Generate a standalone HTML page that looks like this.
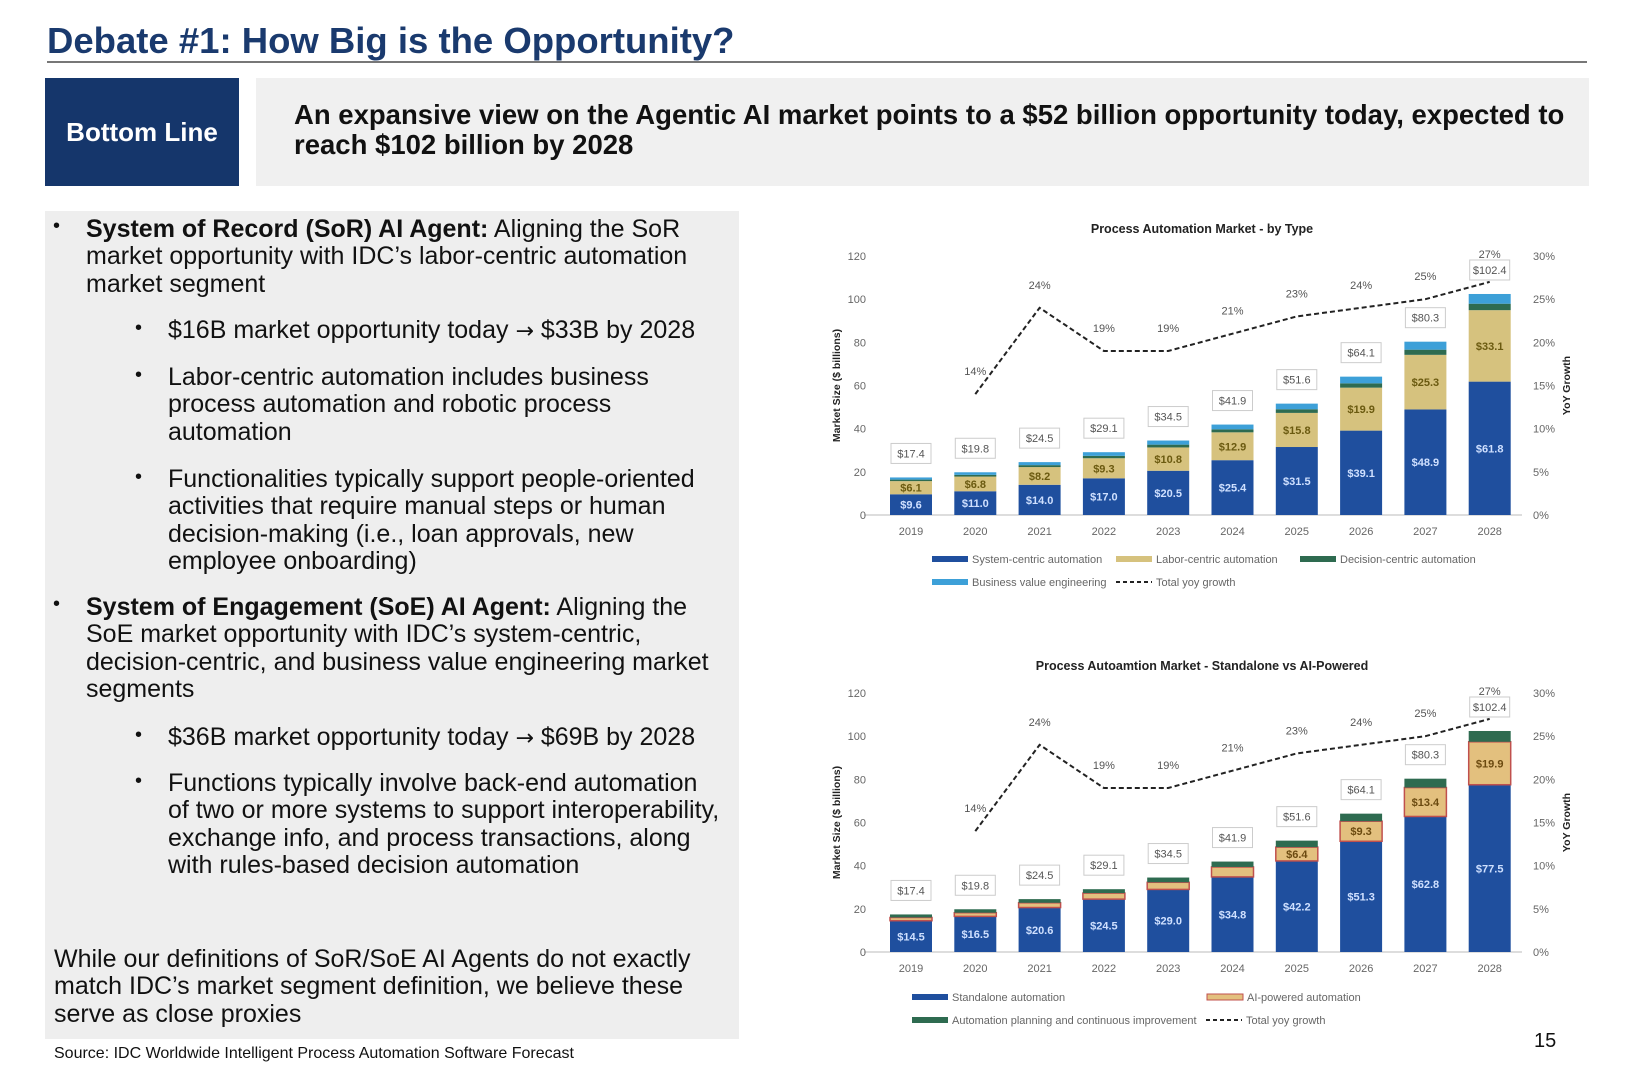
<!DOCTYPE html>
<html><head><meta charset="utf-8">
<style>
body{margin:0;width:1632px;height:1080px;background:#fff;font-family:"Liberation Sans",Arial,sans-serif;position:relative;overflow:hidden}
.abs{position:absolute}
#title{left:47px;top:20px;font-size:36.5px;font-weight:bold;color:#1a3a6e}
#rule{left:47px;top:61px;width:1540px;height:2px;background:#777}
#bl{left:45px;top:78px;width:194px;height:108px;background:#15366b;color:#fff;font-weight:bold;font-size:26px;display:flex;align-items:center;justify-content:center}
#hl{left:256px;top:78px;width:1333px;height:108px;background:#f0f0f0}
#hl div{position:absolute;left:38px;top:22px;font-size:27.5px;font-weight:bold;line-height:30px;color:#111;width:1290px}
#panel{left:45px;top:211px;width:694px;height:828px;background:#eeeeee}
.t{position:absolute;font-size:25px;line-height:27.3px;color:#111;white-space:nowrap}
.b{position:absolute;font-size:20px;color:#111}
.ar{font-family:"DejaVu Sans",sans-serif;font-size:22px}
#src{left:54px;top:1045px;font-size:16px;color:#111}
#pg{left:1534px;top:1030px;font-size:20px;color:#111}
svg text{font-family:"Liberation Sans",Arial,sans-serif}
</style></head><body>
<div id="title" class="abs">Debate #1: How Big is the Opportunity?</div>
<div id="rule" class="abs"></div>
<div id="bl" class="abs">Bottom Line</div>
<div id="hl" class="abs"><div>An expansive view on the Agentic AI market points to a $52 billion opportunity today, expected to reach $102 billion by 2028</div></div>
<div id="panel" class="abs">
<span class="b" style="left:8px;top:4px">•</span>
<div class="t" style="left:41px;top:5px"><b>System of Record (SoR) AI Agent:</b> Aligning the SoR<br>market opportunity with IDC’s labor-centric automation<br>market segment</div>
<span class="b" style="left:90px;top:106px">•</span>
<div class="t" style="left:123px;top:106px">$16B market opportunity today <span class="ar">→</span> $33B by 2028</div>
<span class="b" style="left:90px;top:153px">•</span>
<div class="t" style="left:123px;top:153px">Labor-centric automation includes business<br>process automation and robotic process<br>automation</div>
<span class="b" style="left:90px;top:255px">•</span>
<div class="t" style="left:123px;top:255px">Functionalities typically support people-oriented<br>activities that require manual steps or human<br>decision-making (i.e., loan approvals, new<br>employee onboarding)</div>
<span class="b" style="left:8px;top:382px">•</span>
<div class="t" style="left:41px;top:383px"><b>System of Engagement (SoE) AI Agent:</b> Aligning the<br>SoE market opportunity with IDC’s system-centric,<br>decision-centric, and business value engineering market<br>segments</div>
<span class="b" style="left:90px;top:513px">•</span>
<div class="t" style="left:123px;top:513px">$36B market opportunity today <span class="ar">→</span> $69B by 2028</div>
<span class="b" style="left:90px;top:559px">•</span>
<div class="t" style="left:123px;top:559px">Functions typically involve back-end automation<br>of two or more systems to support interoperability,<br>exchange info, and process transactions, along<br>with rules-based decision automation</div>
<div class="t" style="left:9px;top:735px">While our definitions of SoR/SoE AI Agents do not exactly<br>match IDC’s market segment definition, we believe these<br>serve as close proxies</div>
</div>
<div id="src" class="abs">Source: IDC Worldwide Intelligent Process Automation Software Forecast</div>
<div id="pg" class="abs">15</div>
<svg id="chart" class="abs" style="left:0;top:0" width="1632" height="1080"></svg>
<script>
const years=["2019","2020","2021","2022","2023","2024","2025","2026","2027","2028"];
const totals=[17.4,19.8,24.5,29.1,34.5,41.9,51.6,64.1,80.3,102.4];
const growth=[null,14,24,19,19,21,23,24,25,27];
const systemCentric=[9.6,11.0,14.0,17.0,20.5,25.4,31.5,39.1,48.9,61.8];
const laborCentric=[6.1,6.8,8.2,9.3,10.8,12.9,15.8,19.9,25.3,33.1];
const decisionCentric=[0.7,0.8,0.9,1.1,1.3,1.4,1.7,2.0,2.4,3.0];
const businessValue=[1.0,1.2,1.4,1.7,1.9,2.2,2.6,3.1,3.7,4.5];
const standalone=[14.5,16.5,20.6,24.5,29.0,34.8,42.2,51.3,62.8,77.5];
const aiPowered=[1.5,1.7,2.2,2.8,3.3,4.6,6.4,9.3,13.4,19.9];
const planning=[1.4,1.6,1.7,1.8,2.2,2.5,3.0,3.5,4.1,5.0];
const leftTicks=[0,20,40,60,80,100,120];
const rightTicks=["0%","5%","10%","15%","20%","25%","30%"];

const svg=document.getElementById('chart');
const NS='http://www.w3.org/2000/svg';
function mk(tag,attrs,txt){const e=document.createElementNS(NS,tag);for(const k in attrs)e.setAttribute(k,attrs[k]);if(txt!=null)e.textContent=txt;svg.appendChild(e);return e;}

function drawChart(top0,top120,title,titleY,series,legendRows,key){
  const y=v=>top0-v/120*(top0-top120);
  const yp=p=>top0-p/30*(top0-top120);
  const x=i=>911+i*64.3;
  const bw=42;
  let e=mk('text',{x:1202,y:titleY,'text-anchor':'middle','font-size':12.5,'font-weight':'bold',fill:'#222'},title);
  
  
  mk('line',{x1:864,x2:1522,y1:top0,y2:top0,stroke:'#bbb','stroke-width':1});
  leftTicks.forEach((t,i)=>{
    e=mk('text',{x:866,y:y(t)+4,'text-anchor':'end','font-size':11,fill:'#666'},t);
    
    
  });
  rightTicks.forEach((t,i)=>{
    e=mk('text',{x:1533,y:yp(i*5)+4,'font-size':11,fill:'#666'},t);
    
    
  });
  const cy=(top0+top120)/2;
  e=mk('text',{x:0,y:0,transform:`translate(840,${cy}) rotate(-90)`,'text-anchor':'middle','font-size':10.5,'font-weight':'bold',fill:'#222'},'Market Size ($ billions)');
  
  
  e=mk('text',{x:0,y:0,transform:`translate(1570,${cy}) rotate(-90)`,'text-anchor':'middle','font-size':10.5,'font-weight':'bold',fill:'#222'},'YoY Growth');
  
  
  years.forEach((yr,i)=>{
    e=mk('text',{x:x(i),y:top0+20,'text-anchor':'middle','font-size':11,fill:'#666'},yr);
    
    
    let base=0;
    series.forEach(s=>{
      const v=s.data[i];
      const r=mk('rect',{x:x(i)-bw/2,y:y(base+v),width:bw,height:y(base)-y(base+v),fill:s.color,stroke:s.stroke||'none','stroke-width':s.stroke?1.5:0});
      
      
      if(s.label && (y(base)-y(base+v))>12){
        const tt=mk('text',{x:x(i),y:(y(base)+y(base+v))/2+4,'text-anchor':'middle','font-size':11,'font-weight':'bold',fill:s.labelColor},'$'+v.toFixed(1));
        
        
      }
      base+=v;
    });
    const ty=y(totals[i])-24;
    const bx=mk('rect',{x:x(i)-20,y:ty-10,width:40,height:20,fill:'#fff',stroke:'#ccc','stroke-width':1});
    
    
    e=mk('text',{x:x(i),y:ty+4,'text-anchor':'middle','font-size':11,fill:'#555'},'$'+totals[i].toFixed(1));
    
    
  });
  let pts=[];
  growth.forEach((g,i)=>{if(g!=null)pts.push(x(i)+','+yp(g));});
  e=mk('polyline',{points:pts.join(' '),fill:'none',stroke:'#222','stroke-width':2,'stroke-dasharray':'5,3'});
  
  
  growth.forEach((g,i)=>{if(g==null)return;
    const off=(i===growth.length-1)?24:19;
    e=mk('text',{x:x(i),y:yp(g)-off,'text-anchor':'middle','font-size':11,fill:'#555'},g+'%');
    
    
  });
  legendRows.forEach(l=>{
    if(l.dash){
      mk('line',{x1:l.x,x2:l.x+36,y1:l.y,y2:l.y,stroke:'#222','stroke-width':2,'stroke-dasharray':'4,3'});
    } else {
      mk('rect',{x:l.x,y:l.y-3,width:36,height:6,fill:l.color,stroke:l.stroke||'none'});
    }
    e=mk('text',{x:l.x+40,y:l.y+4,'font-size':11,fill:'#666'},l.text);
    
    
  });
}
drawChart(515,256,'Process Automation Market - by Type',233,[
  {key:'system',data:systemCentric,color:'#1f4f9e',label:true,labelColor:'#cfe0ff'},
  {key:'labor',data:laborCentric,color:'#d6c27e',label:true,labelColor:'#6b5a10'},
  {key:'decision',data:decisionCentric,color:'#2e6b50'},
  {key:'bve',data:businessValue,color:'#3da0d8'}
],[
  {x:932,y:559,color:'#1f4f9e',text:'System-centric automation'},
  {x:1116,y:559,color:'#d6c27e',text:'Labor-centric automation'},
  {x:1300,y:559,color:'#2e6b50',text:'Decision-centric automation'},
  {x:932,y:582,color:'#3da0d8',text:'Business value engineering'},
  {x:1116,y:582,dash:true,text:'Total yoy growth'}
],'chart1');
drawChart(952,693,'Process Autoamtion Market - Standalone vs AI-Powered',670,[
  {key:'standalone',data:standalone,color:'#1f4f9e',label:true,labelColor:'#cfe0ff'},
  {key:'ai',data:aiPowered,color:'#e3c07e',stroke:'#c0504d',label:true,labelColor:'#6b4a10'},
  {key:'planning',data:planning,color:'#2e6b50'}
],[
  {x:912,y:997,color:'#1f4f9e',text:'Standalone automation'},
  {x:1207,y:997,color:'#e3c07e',stroke:'#c0504d',text:'AI-powered automation'},
  {x:912,y:1020,color:'#2e6b50',text:'Automation planning and continuous improvement'},
  {x:1206,y:1020,dash:true,text:'Total yoy growth'}
],'chart2');
</script>
</body></html>
